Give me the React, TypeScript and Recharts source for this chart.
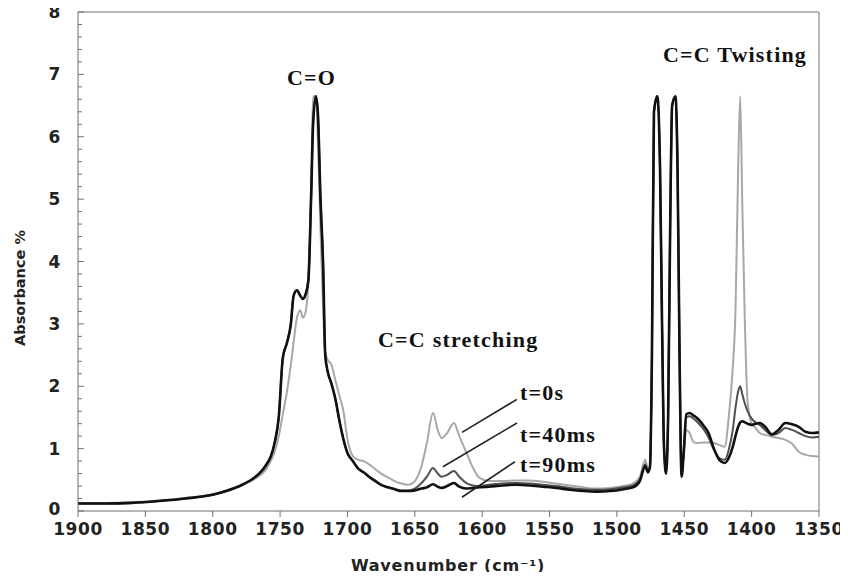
import React from 'react';
import { LineChart, Line, XAxis, YAxis, ReferenceLine, ReferenceDot } from 'recharts';

// Wavenumber samples (cm^-1)
const wavenumbers = [
  1900, 1880, 1860, 1840, 1820, 1800, 1790, 1780, 1770, 1765,
  1760, 1757, 1754, 1751, 1748, 1745, 1742, 1740, 1737.5, 1735,
  1733, 1731, 1729, 1727, 1725.5, 1723.5, 1722, 1720, 1718, 1716.5,
  1714.5, 1712, 1709, 1706, 1703, 1700, 1696, 1692, 1688, 1684,
  1680, 1675, 1670, 1665, 1660, 1655, 1650, 1645, 1641, 1636.5,
  1633, 1630, 1626, 1621, 1617, 1612, 1607, 1602, 1595, 1585,
  1575, 1565, 1555, 1545, 1535, 1525, 1515, 1505, 1495, 1488,
  1483, 1479, 1477, 1475.5, 1474, 1472.5, 1470, 1468, 1466.5, 1465,
  1463.5, 1462, 1460.5, 1459, 1456.5, 1455, 1453.5, 1452, 1450.5, 1448.5,
  1446, 1443, 1440, 1436, 1432, 1428, 1424, 1420, 1417, 1414,
  1412, 1410, 1408.5, 1407, 1405, 1403, 1400, 1397, 1394, 1390,
  1385, 1380, 1375, 1370, 1365, 1360, 1355, 1350,
];

// t = 0 s (light grey)
const absT0 = [
  0.13, 0.13, 0.14, 0.17, 0.21, 0.27, 0.33, 0.4, 0.5, 0.57,
  0.68, 0.8, 0.95, 1.2, 1.55, 1.9, 2.35, 2.7, 3.1, 3.22,
  3.1, 3.2, 3.7, 5.2, 6.65, 6.65, 6.0, 4.5, 3.2, 2.55,
  2.42, 2.35, 2.1, 1.85, 1.6, 1.15, 0.88, 0.82, 0.8, 0.75,
  0.68, 0.6, 0.54, 0.48, 0.44, 0.42, 0.48, 0.72, 1.1, 1.57,
  1.3, 1.17, 1.25, 1.41, 1.2, 0.95, 0.7, 0.53, 0.48, 0.48,
  0.49, 0.49, 0.47, 0.44, 0.41, 0.38, 0.36, 0.37, 0.4, 0.44,
  0.55, 0.82, 0.68, 0.72, 2.5, 6.4, 6.65, 5.5, 3.0, 1.0,
  0.6, 1.5, 4.5, 6.5, 6.65, 5.5, 2.5, 0.55, 0.9, 1.3,
  1.25, 1.1, 1.09, 1.1, 1.1, 1.09, 1.06, 1.03, 1.5, 2.3,
  3.2, 5.5, 6.65, 5.0, 3.0, 1.75, 1.4, 1.33, 1.25, 1.22,
  1.19, 1.17, 1.14, 1.08, 0.95, 0.9, 0.88, 0.87,
];

// t = 40 ms (dark grey)
const absT40 = [
  0.12, 0.12, 0.13, 0.16, 0.2, 0.26, 0.32, 0.4, 0.52, 0.61,
  0.75, 0.87, 1.1, 1.5, 2.45, 2.69, 3.0, 3.45, 3.54, 3.45,
  3.4, 3.48, 3.7, 5.0, 6.2, 6.65, 6.4, 5.0, 3.9, 2.5,
  2.22, 2.05, 1.8, 1.45, 1.15, 0.93, 0.8, 0.68, 0.62, 0.55,
  0.49, 0.42, 0.38, 0.35, 0.33, 0.33, 0.36, 0.45, 0.55, 0.69,
  0.6, 0.55, 0.58, 0.64, 0.55, 0.45, 0.41, 0.4, 0.42, 0.44,
  0.45, 0.44, 0.42, 0.4, 0.37, 0.35, 0.34, 0.35, 0.38, 0.41,
  0.5, 0.75, 0.64, 0.7, 2.5, 6.4, 6.65, 5.5, 3.0, 1.0,
  0.6, 1.5, 4.5, 6.5, 6.65, 5.5, 2.5, 0.55, 0.9, 1.5,
  1.52, 1.48, 1.42, 1.32, 1.18, 0.98, 0.85, 0.82, 0.98, 1.3,
  1.65, 1.92, 2.0, 1.88, 1.72, 1.6, 1.48, 1.42, 1.38, 1.3,
  1.22, 1.25, 1.33, 1.3, 1.25, 1.2, 1.18, 1.19,
];

// t = 90 ms (black)
const absT90 = [
  0.12, 0.12, 0.13, 0.16, 0.2, 0.26, 0.32, 0.4, 0.52, 0.61,
  0.75, 0.87, 1.1, 1.5, 2.45, 2.69, 3.0, 3.45, 3.54, 3.45,
  3.4, 3.48, 3.7, 5.0, 6.2, 6.65, 6.4, 5.0, 3.9, 2.5,
  2.22, 2.05, 1.8, 1.45, 1.15, 0.93, 0.8, 0.68, 0.62, 0.55,
  0.49, 0.42, 0.38, 0.35, 0.32, 0.32, 0.33, 0.36, 0.38, 0.43,
  0.39, 0.37, 0.4, 0.45, 0.39, 0.36, 0.37, 0.38, 0.39, 0.41,
  0.42, 0.41, 0.39, 0.37, 0.34, 0.32, 0.31, 0.32, 0.35, 0.38,
  0.48, 0.72, 0.62, 0.7, 2.5, 6.4, 6.65, 5.5, 3.0, 1.0,
  0.6, 1.5, 4.5, 6.5, 6.65, 5.5, 2.5, 0.55, 0.9, 1.55,
  1.57, 1.53, 1.48, 1.38, 1.25, 1.0, 0.82, 0.77, 0.85, 1.03,
  1.2, 1.35, 1.42, 1.44, 1.42, 1.4, 1.38, 1.4, 1.41, 1.35,
  1.23, 1.3, 1.41, 1.39, 1.35, 1.27, 1.25, 1.26,
];

const xTicks = [1900, 1850, 1800, 1750, 1700, 1650, 1600, 1550, 1500, 1450, 1400, 1350];
const yTicks = [
  0, 0.2, 0.4, 0.6, 0.8, 1, 1.2, 1.4, 1.6, 1.8,
  2, 2.2, 2.4, 2.6, 2.8, 3, 3.2, 3.4, 3.6, 3.8,
  4, 4.2, 4.4, 4.6, 4.8, 5, 5.2, 5.4, 5.6, 5.8,
  6, 6.2, 6.4, 6.6, 6.8, 7, 7.2, 7.4, 7.6, 7.8, 8,
];

// Annotations: [text, wavenumber, absorbance (baseline)]
const notes: [string, number, number][] = [
  ['C=O', 1744.9, 6.83],
  ['C=C Twisting', 1465.8, 7.2],
  ['C=C stretching', 1677.3, 2.63],
  ['t=0s', 1571.9, 1.78],
  ['t=40ms', 1571.9, 1.11],
  ['t=90ms', 1571.9, 0.63],
];

// Leader lines: [[wn1, a1], [wn2, a2]]
const leaders: [[number, number], [number, number]][] = [
  [[1574.2, 1.79], [1615, 1.26]],
  [[1574.2, 1.41], [1629.1, 0.71]],
  [[1575.7, 0.79], [1615, 0.22]],
];

const data = wavenumbers.map((wn, i) => ({ wn, t0: absT0[i], t40: absT40[i], t90: absT90[i] }));

const AXIS_COLOR = '#707070';
const TICK_FONT = { fontFamily: 'DejaVu Sans', fontWeight: 'bold' as const, fontSize: 17, fill: '#222', letterSpacing: 0.6 };

const YTick = (props: any) => {
  const { x, y, payload } = props;
  const v = payload.value as number;
  const major = Math.abs(v - Math.round(v)) < 1e-6;
  return (
    <g>
      <line x1={x} x2={x + (major ? 6 : 4)} y1={y} y2={y} stroke={AXIS_COLOR} strokeWidth={1} />
      {major && (
        <text x={x - 17} y={y - (v === 0 ? 2 : 0)} textAnchor="end" dominantBaseline="central" {...TICK_FONT}>
          {Math.round(v)}
        </text>
      )}
    </g>
  );
};

const XTick = (props: any) => {
  const { x, y, payload } = props;
  return (
    <g>
      <line x1={x} x2={x} y1={y} y2={y + 6} stroke={AXIS_COLOR} strokeWidth={1} />
      <text x={x} y={y + 18} textAnchor="middle" dominantBaseline="central" {...TICK_FONT}>
        {payload.value}
      </text>
    </g>
  );
};

const noteShape = (label: string) => (p: any) => (
  <text
    x={p.cx}
    y={p.cy}
    textAnchor="start"
    fontFamily="Liberation Serif"
    fontWeight="bold"
    fontSize={22}
    letterSpacing={1.2}
    fill="#111"
  >
    {label}
  </text>
);

export default function App() {
  return (
    <div style={{ position: 'relative', margin: -8, width: 848, height: 580 }}>
      <LineChart width={848} height={580} data={data} margin={{ top: 12, right: 29, bottom: 39, left: 38 }}>
        <XAxis
          dataKey="wn"
          type="number"
          domain={[1350, 1900]}
          reversed
          ticks={xTicks}
          interval={0}
          allowDataOverflow
          height={30}
          tickSize={0}
          tickMargin={0}
          tickLine={false}
          tick={<XTick />}
          stroke={AXIS_COLOR}
        />
        <YAxis
          type="number"
          domain={[0, 8]}
          ticks={yTicks}
          interval={0}
          allowDataOverflow
          width={40}
          tickSize={0}
          tickMargin={0}
          tickLine={false}
          tick={<YTick />}
          stroke={AXIS_COLOR}
        />
        <ReferenceLine y={8} stroke={AXIS_COLOR} strokeWidth={1} />
        <ReferenceLine x={1350} stroke={AXIS_COLOR} strokeWidth={1} />
        <Line type="monotone" dataKey="t0" stroke="#a8a8a8" strokeWidth={2} dot={false} activeDot={false} isAnimationActive={false} />
        <Line type="monotone" dataKey="t40" stroke="#505050" strokeWidth={2} dot={false} activeDot={false} isAnimationActive={false} />
        <Line type="monotone" dataKey="t90" stroke="#111111" strokeWidth={2.6} dot={false} activeDot={false} isAnimationActive={false} />
        {leaders.map((seg, i) => (
          <ReferenceLine
            key={'l' + i}
            segment={[{ x: seg[0][0], y: seg[0][1] }, { x: seg[1][0], y: seg[1][1] }]}
            stroke="#222"
            strokeWidth={1.6}
          />
        ))}
        {notes.map(([label, wn, a]) => (
          <ReferenceDot key={label} x={wn} y={a} r={0} shape={noteShape(label)} />
        ))}
      </LineChart>
      <div
        style={{
          position: 'absolute',
          left: 20,
          top: 288,
          transform: 'translate(-50%, -50%) rotate(-90deg)',
          whiteSpace: 'nowrap',
          fontFamily: 'DejaVu Sans',
          fontWeight: 'bold',
          fontSize: 14.5,
          color: '#222',
        }}
      >
        Absorbance %
      </div>
      <div
        style={{
          position: 'absolute',
          left: 448,
          top: 565,
          transform: 'translate(-50%, -50%)',
          whiteSpace: 'nowrap',
          fontFamily: 'DejaVu Sans',
          fontWeight: 'bold',
          fontSize: 16,
          letterSpacing: 0.8,
          color: '#222',
        }}
      >
        Wavenumber (cm⁻¹)
      </div>
    </div>
  );
}
